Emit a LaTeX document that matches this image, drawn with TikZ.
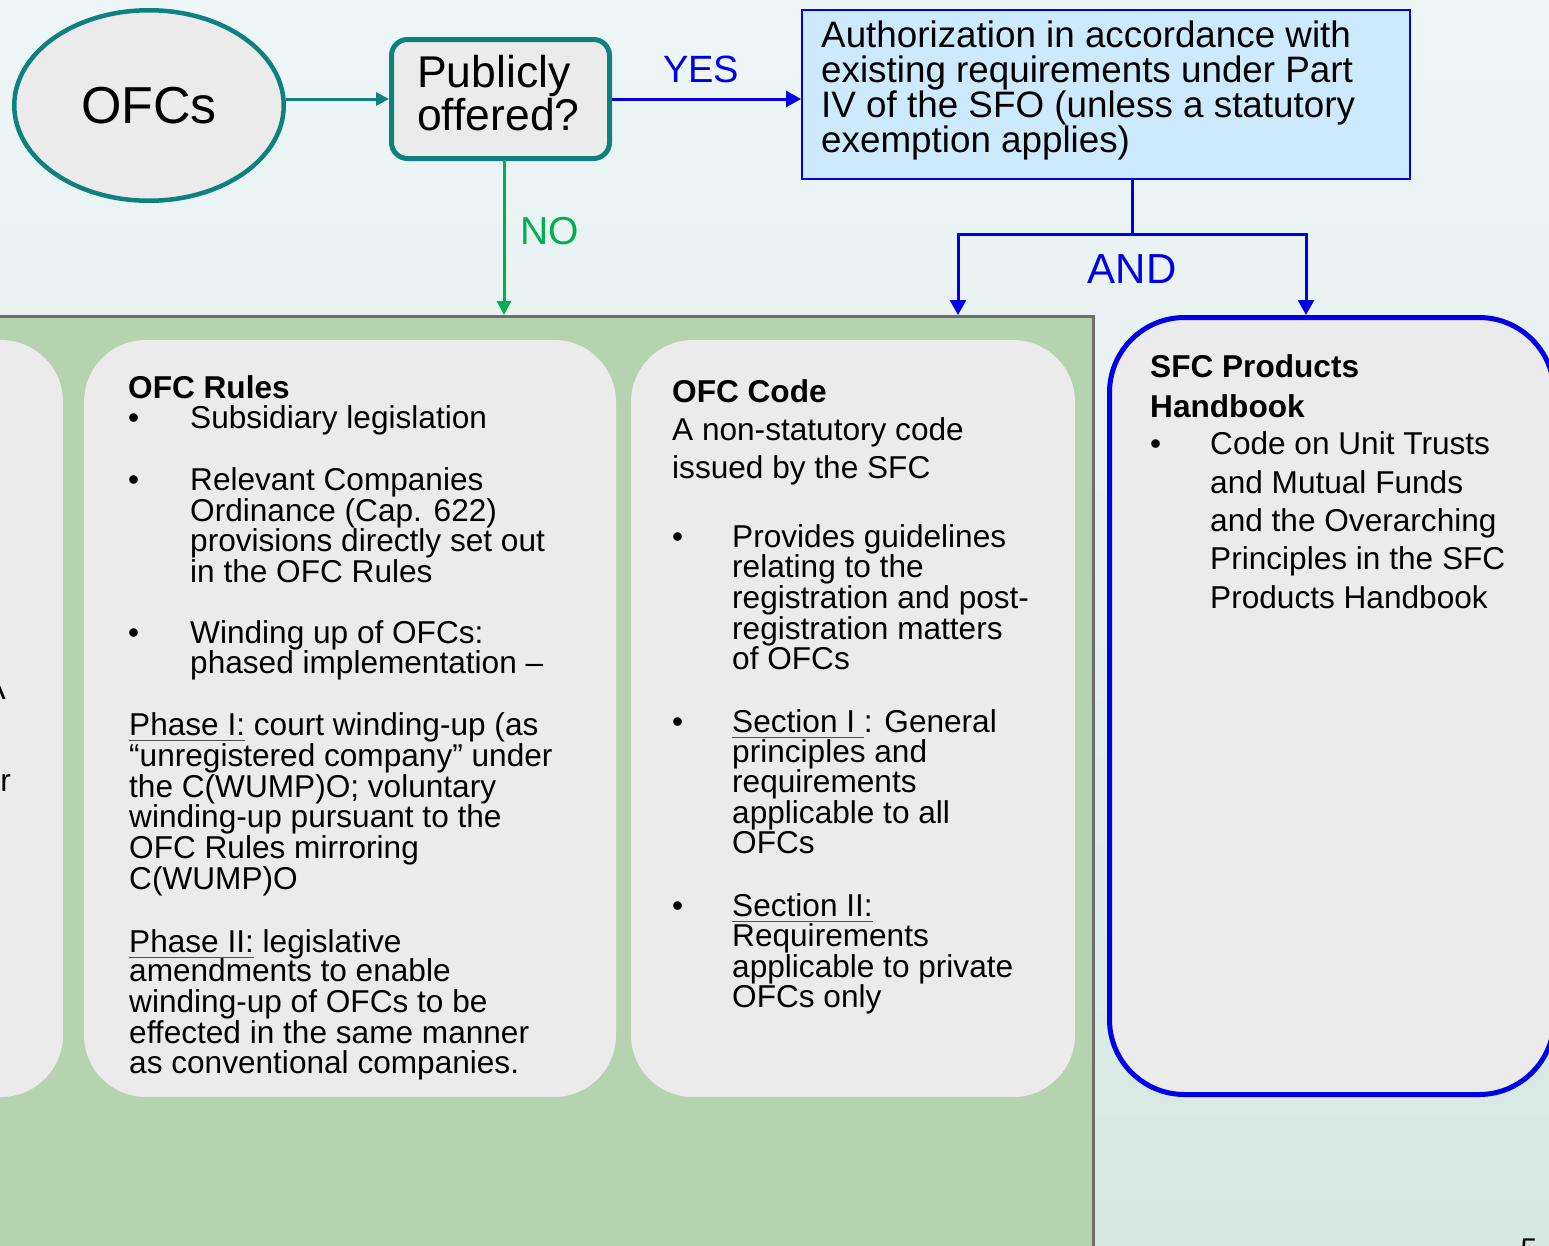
\documentclass[tikz,border=0pt]{standalone}
\usepackage{fontspec}
\setmainfont{Liberation Sans}
\usetikzlibrary{arrows.meta,shapes.geometric}

\definecolor{bgtop}{HTML}{EEF6F7}
\definecolor{bgbot}{HTML}{D6E8E2}
\definecolor{ofcteal}{HTML}{0E8080}
\definecolor{cardgray}{HTML}{EBEBEB}
\definecolor{panelgreen}{HTML}{B5D3AE}
\definecolor{panelrim}{HTML}{6D6D6D}
\definecolor{flowblue}{HTML}{0000E6}
\definecolor{nogreen}{HTML}{00B050}
\definecolor{authfill}{HTML}{CCEAFB}
\definecolor{ulgray}{HTML}{505050}

\newcommand{\undl}[1]{\setbox0=\hbox{#1}\rlap{\color{ulgray}\rule[-6pt]{\wd0}{1.3pt}}\box0\relax}

\tikzset{
  card/.style={rectangle, fill=cardgray, rounded corners=62pt, inner sep=0pt,
               minimum height=757pt},
  panel/.style={rectangle, fill=panelgreen, draw=panelrim, line width=3pt,
                inner sep=0pt, minimum width=1113pt, minimum height=948.5pt},
  sfcbox/.style={rectangle, fill=cardgray, draw=flowblue, line width=5pt,
                 rounded corners=75pt, inner sep=0pt,
                 minimum width=444.5pt, minimum height=777pt},
  ofcell/.style={ellipse, fill=cardgray, draw=ofcteal, line width=4.5pt,
                 inner sep=0pt, minimum width=269.5pt, minimum height=190.5pt,
                 font=\fontsize{52}{52}\selectfont},
  pubbox/.style={rectangle, fill=cardgray, draw=ofcteal, line width=5pt,
                 rounded corners=16pt, inner sep=0pt,
                 minimum width=218pt, minimum height=119pt},
  authbox/.style={rectangle, fill=authfill, draw=flowblue, line width=2pt,
                  inner sep=0pt, minimum width=608pt, minimum height=169pt},
  body/.style={anchor=base west, inner sep=0pt, font=\fontsize{31.6}{32}\selectfont},
  hdr/.style={body, font=\fontsize{31.6}{32}\selectfont\bfseries},
  authtext/.style={body, font=\fontsize{36.8}{37}\selectfont},
  pubtext/.style={body, font=\fontsize{44.5}{45}\selectfont},
  bulletdot/.style={body},
  tealarrow/.style={draw=ofcteal, line width=3pt, -{Triangle[length=13pt,width=13pt]}},
  bluearrow/.style={draw=flowblue, line width=3pt, -{Triangle[length=15pt,width=16pt]}},
  blueline/.style={draw=flowblue, line width=3pt},
  greenarrow/.style={draw=nogreen, line width=3pt, -{Triangle[length=14pt,width=14pt]}},
}

\begin{document}
\begin{tikzpicture}[x=1pt,y=-1pt]
\useasboundingbox (0,0) rectangle (1549,1245);
\clip (0,0) rectangle (1549,1245);
\fill[top color=bgtop,bottom color=bgbot] (0,0) rectangle (1549,1245);

% green panel with the cards
\node[panel] (panel) at (536.5,790.75) {};
\node[card, minimum width=533pt] (prev) at (-203.5,718.5) {};
\node[card, minimum width=532pt] (rules) at (350,718.5) {};
\node[card, minimum width=444pt] (code) at (853,718.5) {};
\node[sfcbox] (sfc) at (1331.75,706) {};

% top of the flow
\node[ofcell] (ofcs) at (149,105.5) {OFCs};
\node[pubbox] (pub) at (500.5,99) {};
\node[pubtext] (pub1) at (417,87) {Publicly};
\node[pubtext] (pub2) at (417,130) {offered?};
\node[authbox] (auth) at (1106,94.5) {};
\foreach \y/\words [count=\i] in {47/{Authorization in accordance with},
    82/{existing requirements under Part},
    117/{IV of the SFO (unless a statutory},
    152/{exemption applies)}}
  \node[authtext] (auth\i) at (821,\y) {\words};

% connectors
\draw[tealarrow] (ofcs.east |- pub.west) -- (pub.west);
\draw[bluearrow] (pub.east) -- (pub.east -| auth.west);
\node[body, font=\fontsize{38}{38}\selectfont, text=flowblue] (yes) at (663,82) {YES};
\coordinate (nodrop) at (504,160);
\draw[greenarrow] (nodrop) -- (nodrop |- panel.north);
\node[body, font=\fontsize{39}{39}\selectfont, text=nogreen] (no) at (520,244) {NO};
\coordinate (split) at (1132,234);
\coordinate (andL) at (958,234);
\coordinate (andR) at (1306,234);
\draw[blueline] (split |- auth.south) -- (split);
\draw[bluearrow] (split) -- (andL) -- (andL |- panel.north);
\draw[bluearrow] (split) -- (andR) -- (andR |- sfc.north);
\node[body, anchor=base, font=\fontsize{42}{42}\selectfont, text=flowblue] (and) at (1132,283) {AND};

% cut-off card on the left
\node[body, anchor=base east] (cutA) at (6,699) {A};
\node[body, anchor=base east] (cutR) at (11,791) {r};

% OFC Rules
\node[hdr] (rulesT) at (128,398) {OFC Rules};
\foreach \y in {428,490,643}
  \node[bulletdot] (rulesB\y) at (128,\y) {•};
\foreach \y/\words in {428/{Subsidiary legislation},
    490/{Relevant Companies}, 521/{Ordinance (Cap. 622)},
    551/{provisions directly set out}, 582/{in the OFC Rules},
    643/{Winding up of OFCs:}, 673/{phased implementation –}}
  \node[body] (rules\y) at (190,\y) {\words};
\foreach \y/\words in {735/{\undl{Phase I:} court winding-up (as},
    766/{“unregistered company” under}, 797/{the C(WUMP)O; voluntary},
    827/{winding-up pursuant to the}, 858/{OFC Rules mirroring},
    889/{C(WUMP)O},
    952/{\undl{Phase II:} legislative}, 981/{amendments to enable},
    1012/{winding-up of OFCs to be}, 1043/{effected in the same manner},
    1073/{as conventional companies.}}
  \node[body] (phase\y) at (129,\y) {\words};

% OFC Code
\node[hdr] (codeT) at (672,402) {OFC Code};
\node[body] (code440) at (672,440) {A non-statutory code};
\node[body] (code478) at (672,478) {issued by the SFC};
\foreach \y in {547,732,916}
  \node[bulletdot] (codeB\y) at (672,\y) {•};
\foreach \y/\words in {547/{Provides guidelines}, 577/{relating to the},
    608/{registration and post-}, 639/{registration matters}, 669/{of OFCs},
    732/{\undl{Section I }: General}, 762/{principles and},
    792/{requirements}, 823/{applicable to all}, 853/{OFCs},
    916/{\undl{Section II:}}, 946/{Requirements},
    977/{applicable to private}, 1007/{OFCs only}}
  \node[body] (code\y) at (732,\y) {\words};

% SFC Products Handbook
\node[hdr] (sfcT1) at (1150,377) {SFC Products};
\node[hdr] (sfcT2) at (1150,417) {Handbook};
\node[bulletdot] (sfcB) at (1150,454) {•};
\foreach \y/\words in {454/{Code on Unit Trusts}, 493/{and Mutual Funds},
    531/{and the Overarching}, 569/{Principles in the SFC},
    608/{Products Handbook}}
  \node[body] (sfc\y) at (1210,\y) {\words};

% page number
\node[inner sep=0pt, anchor=north, font=\fontsize{30}{30}\selectfont] (pgno) at (1529,1239) {5};
\end{tikzpicture}
\end{document}
